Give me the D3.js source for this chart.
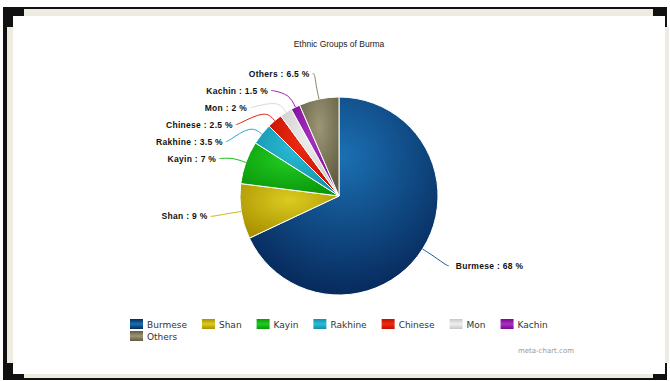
<!DOCTYPE html>
<html>
<head>
<meta charset="utf-8">
<script src="https://cdn.jsdelivr.net/npm/d3@7"></script>
<style>
  html, body { margin: 0; padding: 0; background: #fff; }
  svg { display: block; }
</style>
</head>
<body>
<div id="chart"></div>
<script>
// Ethnic groups of Burma - pie with outside labels
const title = 'Ethnic Groups of Burma';
const groups = ['Burmese', 'Shan', 'Kayin', 'Rakhine', 'Chinese', 'Mon', 'Kachin', 'Others'];
const shares = [68, 9, 7, 3.5, 2.5, 2, 1.5, 6.5];
const lightColors = ['#1b6fb2', '#dccb20', '#22cc22', '#2abcd6', '#f02c12', '#f0f0f0', '#aa32c4', '#9c9676'];
const darkColors = ['#072a5c', '#a89200', '#0a980a', '#1590aa', '#bf1000', '#c8c8c8', '#780a8e', '#615c40'];

const width = 670, height = 381;
const cx = 339, cy = 196, radius = 99;
const labelDistance = 31;
const labelGap = 17;

const svg = d3.select('#chart').append('svg')
  .attr('width', width)
  .attr('height', height);

// Frame: black corners, beige border, white panel
svg.append('rect').attr('x', 3).attr('y', 7).attr('width', 664).attr('height', 373).attr('fill', '#111');
svg.append('rect').attr('x', 24).attr('y', 9).attr('width', 629).attr('height', 369).attr('fill', '#eeebe1');
svg.append('rect').attr('x', 7).attr('y', 27).attr('width', 662).attr('height', 336).attr('fill', '#eeebe1');
svg.append('rect').attr('x', 13).attr('y', 16).attr('width', 652).attr('height', 358).attr('fill', '#fff');

// Gradients
const defs = svg.append('defs');
groups.forEach((g, i) => {
  const rg = defs.append('radialGradient')
    .attr('id', 'slice-grad-' + i)
    .attr('cx', 0.5).attr('cy', 0.3).attr('r', 0.7);
  rg.append('stop').attr('offset', '0%').attr('stop-color', lightColors[i]);
  rg.append('stop').attr('offset', '100%').attr('stop-color', darkColors[i]);

  const lg = defs.append('linearGradient')
    .attr('id', 'legend-grad-' + i)
    .attr('x1', 0).attr('y1', 0).attr('x2', 0).attr('y2', 1);
  lg.append('stop').attr('offset', '0%').attr('stop-color', darkColors[i]);
  lg.append('stop').attr('offset', '50%').attr('stop-color', lightColors[i]);
  lg.append('stop').attr('offset', '100%').attr('stop-color', darkColors[i]);
});

// Title
svg.append('text')
  .attr('x', cx)
  .attr('y', 47)
  .attr('text-anchor', 'middle')
  .style('font-family', '"Liberation Sans", Arial, sans-serif')
  .style('font-size', '8.5px')
  .attr('fill', '#222')
  .text(title);

// Pie
const data = groups.map((g, i) => ({ name: g, value: shares[i], index: i }));
const pie = d3.pie().sort(null).value(d => d.value);
const arcs = pie(data);
const arc = d3.arc().innerRadius(0).outerRadius(radius);

const pieG = svg.append('g').attr('transform', `translate(${cx},${cy})`);
pieG.selectAll('path.slice')
  .data(arcs)
  .enter().append('path')
  .attr('class', 'slice')
  .attr('d', arc)
  .attr('fill', d => `url(#slice-grad-${d.data.index})`)
  .attr('stroke', '#fff')
  .attr('stroke-width', 1)
  .attr('stroke-linejoin', 'round');

// Label placement (natural position on outer circle, then spread on each side)
const R = radius + labelDistance;
const R2 = R - 4.5; // radius used to re-place labels that were pushed
const labels = arcs.map(a => {
  const mid = (a.startAngle + a.endAngle) / 2;
  const nx = cx + R * Math.sin(mid);
  const ny = cy - R * Math.cos(mid);
  return { a, mid, nx, ny, right: Math.sin(mid) >= 0, y: ny, x: nx };
});

function spread(list) {
  list.sort((p, q) => p.ny - q.ny);
  let prev = -Infinity;
  list.forEach(l => {
    l.y = Math.max(l.ny, 73.5, prev + labelGap);
    prev = l.y;
  });
  list.forEach(l => {
    if (Math.abs(l.y - l.ny) > 6) {
      const dy = Math.min(Math.abs(l.y - cy), R2);
      const dx = Math.sqrt(R2 * R2 - dy * dy);
      l.x = l.right ? cx + dx : cx - dx;
    }
  });
}
spread(labels.filter(l => l.right));
spread(labels.filter(l => !l.right));

const line = d3.line();
labels.forEach(l => {
  const i = l.a.data.index;
  const edge = [cx + radius * Math.sin(l.mid), cy - radius * Math.cos(l.mid)];
  const brk = [cx + (radius + 14) * Math.sin(l.mid), cy - (radius + 14) * Math.cos(l.mid)];
  const start = [l.x, l.y];
  svg.append('path')
    .attr('d', line.curve(d3.curveBasis)([start, [l.x + (l.right ? -2 : 2), l.y], brk, edge]))
    .attr('fill', 'none')
    .attr('stroke', lightColors[i] === '#f0f0f0' ? '#d8d8d8' : d3.interpolateRgb(lightColors[i], darkColors[i])(0.3))
    .attr('stroke-width', 1);

  svg.append('text')
    .attr('x', l.right ? l.x + 7 : l.x - 3)
    .attr('y', l.y + 3)
    .attr('text-anchor', l.right ? 'start' : 'end')
    .style('font-family', '"Liberation Sans", Arial, sans-serif')
    .style('font-size', '8.5px')
    .style('font-weight', 'bold')
    .style('letter-spacing', '0.3px')
    .attr('fill', '#111')
    .text(`${l.a.data.name} : ${l.a.data.value} %`);
});

// Legend
const legendX = 130, legendY = 319, legendMaxX = 560;
const itemGap = 15, rowH = 12;
const legend = svg.append('g');
let lx = legendX, ly = legendY;
data.forEach(d => {
  const item = legend.append('g');
  item.append('rect')
    .attr('width', 13).attr('height', 10)
    .attr('fill', `url(#legend-grad-${d.index})`);
  const t = item.append('text')
    .attr('x', 17)
    .attr('y', 8.5)
    .style('font-family', '"DejaVu Sans", Verdana, sans-serif')
    .style('font-size', '9px')
    .attr('fill', '#333')
    .text(d.name);
  const w = 17 + t.node().getComputedTextLength();
  if (lx + w > legendMaxX) {
    lx = legendX;
    ly += rowH;
  }
  item.attr('transform', `translate(${lx},${ly})`);
  lx += w + itemGap;
});

// Credit
svg.append('text')
  .attr('x', 574)
  .attr('y', 353)
  .attr('text-anchor', 'end')
  .style('font-family', '"DejaVu Sans", Verdana, sans-serif')
  .style('font-size', '7px')
  .attr('fill', '#999')
  .text('meta-chart.com');
</script>
</body>
</html>
